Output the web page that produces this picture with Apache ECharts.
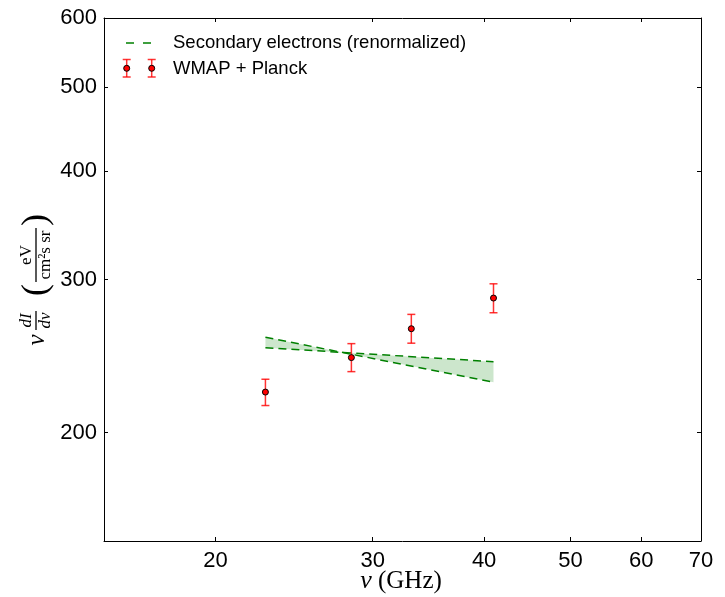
<!DOCTYPE html>
<html>
<head>
<meta charset="utf-8">
<script src="https://cdn.jsdelivr.net/npm/echarts@6/dist/echarts.min.js"></script>
<style>
  html, body { margin: 0; padding: 0; background: #fff; }
  #chart { width: 725px; height: 597px; }
</style>
</head>
<body>
<div id="chart"></div>
<script>
// ---- data ----
const xTicks = [20, 30, 40, 50, 60, 70];
const yTicks = [200, 300, 400, 500, 600];

// WMAP + Planck points (GHz, intensity, lower and upper error bounds)
const freq      = [22.75, 28.4, 33.15, 40.98];
const intensity = [222.6, 243.9, 263.3, 285.6];
const errLow    = [214.8, 235.0, 253.4, 274.7];
const errHigh   = [230.3, 253.1, 273.5, 296.6];

// Secondary electrons (renormalized) band edges
const bandFreq   = [22.75, 40.98];
const modelSteep = [257.4, 228.5];
const modelFlat  = [250.4, 241.3];

const legendLabels = ['Secondary electrons (renormalized)', 'WMAP + Planck'];

// ---- styles ----
const SANS = '"Liberation Sans", Arial, Helvetica, sans-serif';
const SERIF = '"Liberation Serif", "DejaVu Serif", serif';
const GREEN = '#008000';
const RED = 'rgba(255,0,0,0.8)';
const DASH = [8, 5];

const chart = echarts.init(document.getElementById('chart'), null, { renderer: 'canvas' });

function axisCommon() {
  return {
    axisLine: { show: true, lineStyle: { color: '#000', width: 1 } },
    splitLine: { show: false },
    minorTick: { show: false },
  };
}

const option = {
  animation: false,
  backgroundColor: '#fff',
  grid: { left: 104, top: 18, right: 24, bottom: 56, containLabel: false },
  xAxis: [
    Object.assign(axisCommon(), {
      type: 'log', logBase: 10, min: 15, max: 70, position: 'bottom',
      axisTick: { show: true, inside: true, length: 4, customValues: xTicks, lineStyle: { color: '#000' } },
      axisLabel: { show: true, customValues: xTicks, margin: 9, color: '#000', fontSize: 22, fontFamily: SANS,
                   formatter: v => String(Math.round(v)) }
    }),
    Object.assign(axisCommon(), {
      type: 'log', logBase: 10, min: 15, max: 70, position: 'top',
      axisTick: { show: true, inside: true, length: 4, customValues: xTicks, lineStyle: { color: '#000' } },
      axisLabel: { show: false }
    })
  ],
  yAxis: [
    Object.assign(axisCommon(), {
      type: 'log', logBase: 10, min: 150, max: 600, position: 'left',
      axisTick: { show: true, inside: true, length: 4, customValues: yTicks, lineStyle: { color: '#000' } },
      axisLabel: { show: true, customValues: yTicks, margin: 7, color: '#000', fontSize: 22, fontFamily: SANS,
                   formatter: v => String(Math.round(v)) }
    }),
    Object.assign(axisCommon(), {
      type: 'log', logBase: 10, min: 150, max: 600, position: 'right',
      axisTick: { show: true, inside: true, length: 4, customValues: yTicks, lineStyle: { color: '#000' } },
      axisLabel: { show: false }
    })
  ],
  series: [
    {
      // green shaded band between the two model curves
      type: 'custom',
      clip: true,
      silent: true,
      data: [[bandFreq[0], modelSteep[0], modelFlat[0]]],
      renderItem: function (params, api) {
        const pts = [];
        for (let i = 0; i < bandFreq.length; i++) pts.push(api.coord([bandFreq[i], modelSteep[i]]));
        for (let i = bandFreq.length - 1; i >= 0; i--) pts.push(api.coord([bandFreq[i], modelFlat[i]]));
        return { type: 'polygon', shape: { points: pts }, style: { fill: 'rgba(0,128,0,0.2)', stroke: 'none' } };
      },
      z: 1
    },
    {
      type: 'line', data: bandFreq.map((f, i) => [f, modelSteep[i]]),
      symbol: 'none', lineStyle: { color: GREEN, width: 1.5, type: DASH }, z: 2
    },
    {
      type: 'line', data: bandFreq.map((f, i) => [f, modelFlat[i]]),
      symbol: 'none', lineStyle: { color: GREEN, width: 1.5, type: DASH }, z: 2
    },
    {
      // error bars
      type: 'custom',
      data: freq.map((f, i) => [f, errLow[i], errHigh[i]]),
      encode: { x: 0, y: [1, 2] },
      renderItem: function (params, api) {
        const x = api.value(0);
        const pLo = api.coord([x, api.value(1)]);
        const pHi = api.coord([x, api.value(2)]);
        const cw = 4;
        const st = { stroke: RED, lineWidth: 1.5 };
        return {
          type: 'group',
          children: [
            { type: 'line', shape: { x1: pLo[0], y1: pLo[1], x2: pHi[0], y2: pHi[1] }, style: st },
            { type: 'line', shape: { x1: pLo[0] - cw, y1: pLo[1], x2: pLo[0] + cw, y2: pLo[1] }, style: st },
            { type: 'line', shape: { x1: pHi[0] - cw, y1: pHi[1], x2: pHi[0] + cw, y2: pHi[1] }, style: st }
          ]
        };
      },
      z: 3
    },
    {
      type: 'scatter',
      data: freq.map((f, i) => [f, intensity[i]]),
      symbol: 'circle', symbolSize: 6,
      itemStyle: { color: '#ff0000', borderColor: '#000', borderWidth: 1, opacity: 1 },
      z: 4
    }
  ],
  graphic: [
    // legend
    { type: 'line', shape: { x1: 126, y1: 43, x2: 151, y2: 43 }, style: { stroke: GREEN, lineWidth: 1.5, lineDash: [8, 9] } },
    { type: 'text', x: 173, y: 43, style: { text: legendLabels[0], font: '18.5px ' + SANS, fill: '#000', textVerticalAlign: 'middle' } },
    ...[126.7, 151.7].flatMap(cx => [
      { type: 'line', shape: { x1: cx, y1: 59.5, x2: cx, y2: 77 }, style: { stroke: RED, lineWidth: 1.5 } },
      { type: 'line', shape: { x1: cx - 4, y1: 59.5, x2: cx + 4, y2: 59.5 }, style: { stroke: RED, lineWidth: 1.5 } },
      { type: 'line', shape: { x1: cx - 4, y1: 77, x2: cx + 4, y2: 77 }, style: { stroke: RED, lineWidth: 1.5 } },
      { type: 'circle', shape: { cx: cx, cy: 68.3, r: 3 }, style: { fill: '#ff0000', stroke: '#000', lineWidth: 1 }, z: 10 }
    ]),
    { type: 'text', x: 173, y: 69, style: { text: legendLabels[1], font: '18.5px ' + SANS, fill: '#000', textVerticalAlign: 'middle' } },

    // x axis title
    {
      type: 'text', x: 401, y: 581,
      style: {
        text: '{i|ν} (GHz)', textAlign: 'center', textVerticalAlign: 'middle',
        font: '25px ' + SERIF, fill: '#000',
        rich: { i: { fontStyle: 'italic', fontFamily: SERIF, fontSize: 26, fill: '#000' } }
      }
    },

    // y axis title (rotated)
    {
      type: 'group', x: 36, y: 282, rotation: Math.PI / 2,
      children: [
        { type: 'text', x: -58, y: 1, style: { text: 'ν', font: 'italic 25px ' + SERIF, fill: '#000', textAlign: 'center', textVerticalAlign: 'middle' } },
        { type: 'line', shape: { x1: -48, y1: 0, x2: -29, y2: 0 }, style: { stroke: '#000', lineWidth: 1.3 } },
        { type: 'text', x: -38.5, y: -1, style: { text: 'dI', font: 'italic 17px ' + SERIF, fill: '#000', textAlign: 'center', textVerticalAlign: 'bottom' } },
        { type: 'text', x: -38.5, y: 1, style: { text: 'dν', font: 'italic 17px ' + SERIF, fill: '#000', textAlign: 'center', textVerticalAlign: 'top' } },
        { type: 'text', x: -8, y: 1, style: { text: '(', font: '36px ' + SERIF, fill: '#000', textAlign: 'center', textVerticalAlign: 'middle' } },
        { type: 'line', shape: { x1: 0, y1: 0, x2: 54, y2: 0 }, style: { stroke: '#000', lineWidth: 1.3 } },
        { type: 'text', x: 27, y: -1, style: { text: 'eV', font: '17px ' + SERIF, fill: '#000', textAlign: 'center', textVerticalAlign: 'bottom' } },
        { type: 'text', x: 27, y: 1, style: { text: 'cm²s sr', font: '17px ' + SERIF, fill: '#000', textAlign: 'center', textVerticalAlign: 'top' } },
        { type: 'text', x: 62, y: 1, style: { text: ')', font: '36px ' + SERIF, fill: '#000', textAlign: 'center', textVerticalAlign: 'middle' } }
      ]
    }
  ]
};

chart.setOption(option);
</script>
</body>
</html>
